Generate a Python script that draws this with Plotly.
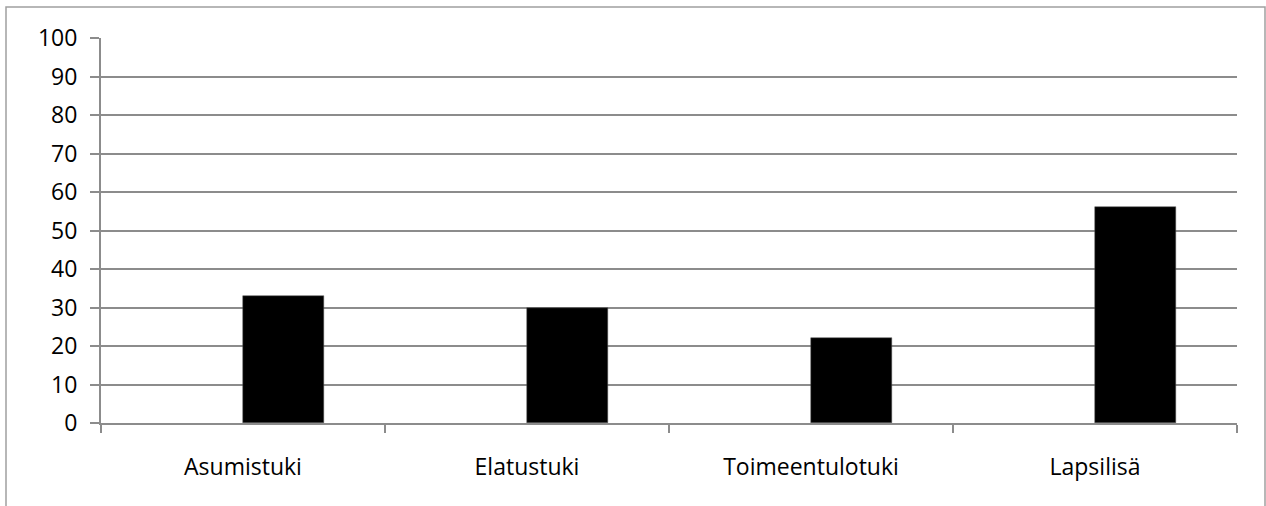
import plotly.graph_objects as go

# data
categories = ["Asumistuki", "Elatustuki", "Toimeentulotuki", "Lapsilisä"]
values = [33, 30, 22, 56]
y_ticks = list(range(0, 101, 10))

W, H = 1266, 506
L, R, T, B = 101, 29, 38, 83
plot_w = W - L - R
plot_h = H - T - B

grid_color = "#8c8c8c"
font = dict(family="Open Sans, Liberation Sans, sans-serif", size=23, color="#000000")

fig = go.Figure()

fig.add_trace(go.Bar(
    x=categories,
    y=values,
    offset=0,
    width=0.285,
    marker=dict(color="#000000", line=dict(color="#555555", width=0.5)),
    showlegend=False,
    hoverinfo="x+y",
))

# outer chart border (Excel chart area)
fig.add_shape(
    type="rect", xref="paper", yref="paper",
    x0=(6 - L) / plot_w, x1=(1265 - L) / plot_w,
    y0=-0.4, y1=1 + (T - 7) / plot_h,
    line=dict(color="#a0a0a0", width=1.5),
    fillcolor="rgba(0,0,0,0)",
)

fig.update_layout(
    width=W, height=H,
    margin=dict(l=L, r=R, t=T, b=B),
    paper_bgcolor="white",
    plot_bgcolor="white",
    font=font,
    bargap=0,
    xaxis=dict(
        type="category",
        showline=True, linecolor=grid_color, linewidth=2,
        ticks="outside", tickson="boundaries", ticklen=8, tickwidth=2, tickcolor=grid_color,
        showgrid=False,
        ticklabelstandoff=22,
        fixedrange=True,
    ),
    yaxis=dict(
        range=[0, 100],
        tickvals=y_ticks,
        showline=True, linecolor=grid_color, linewidth=2,
        ticks="outside", ticklen=9, tickwidth=2, tickcolor=grid_color,
        showgrid=True, gridcolor=grid_color, gridwidth=2,
        zeroline=False,
        ticklabelstandoff=8,
        fixedrange=True,
    ),
)

fig.write_html(
    "out.html",
    config={"displayModeBar": False},
    post_script="document.body.style.margin='0px';",
)
